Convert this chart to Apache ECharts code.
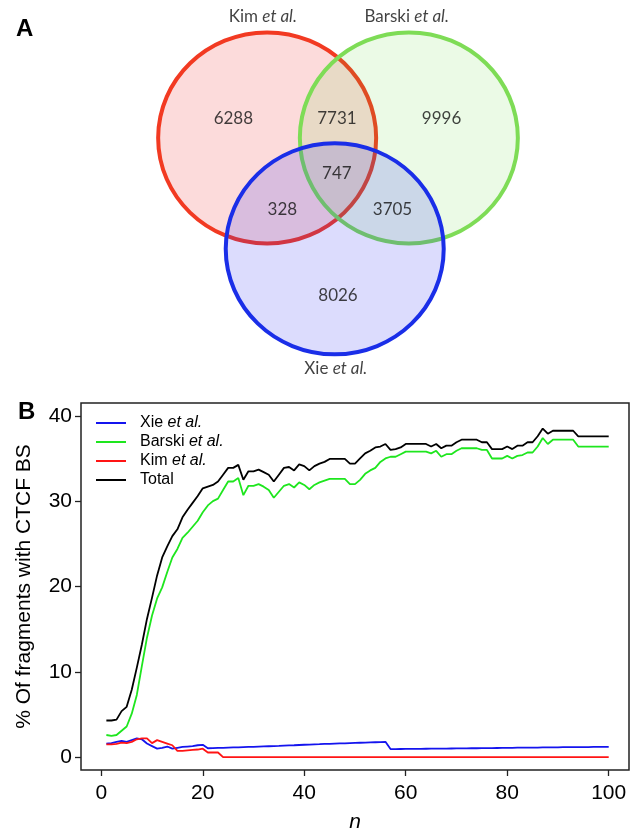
<!DOCTYPE html>
<html>
<head>
<meta charset="utf-8">
<script src="https://cdn.jsdelivr.net/npm/echarts@6/dist/echarts.min.js"></script>
<style>
  html, body { margin: 0; padding: 0; background: #fff; }
  #main { width: 638px; height: 831px; }
</style>
</head>
<body>
<div id="main"></div>
<script>
// ---- panel A: Venn (data units, circle radius = 1) ----
var vennSets = ['Kim', 'Barski', 'Xie'];
var vennCenters = [[-0.65, 0.35], [0.65, 0.35], [-0.03, -0.70]];
var vennRegions = ['6288', '7731', '9996', '747', '328', '3705', '8026'];
var vennRegionPos = [[-0.96, 0.53], [-0.01, 0.53], [0.95, 0.53], [-0.01, 0.01], [-0.51, -0.33], [0.50, -0.33], [0, -1.14]];
var vennNamePos = [[-0.69, 1.50], [0.63, 1.50], [-0.02, -1.83]];

// ---- panel B: % of fragments with CTCF BS vs n ----
var seriesNames = ['Xie et al.', 'Barski et al.', 'Kim et al.', 'Total'];
var xieVals = [1.6, 1.65, 1.8, 1.9, 1.8, 2.0, 2.2, 2.1, 1.6, 1.3,
  1.0, 1.1, 1.25, 1.0, 1.1, 1.2, 1.25, 1.3, 1.4, 1.45,
  1.05, 1.07, 1.09, 1.1, 1.12, 1.14, 1.16, 1.18, 1.2, 1.22,
  1.24, 1.26, 1.28, 1.3, 1.32, 1.35, 1.38, 1.4, 1.43, 1.46,
  1.48, 1.5, 1.52, 1.55, 1.57, 1.59, 1.61, 1.63, 1.65, 1.67,
  1.69, 1.71, 1.73, 1.75, 1.77, 1.8, 0.95, 0.95, 0.96, 0.97,
  0.97, 0.98, 0.98, 0.99, 1.0, 1.0, 1.01, 1.01, 1.02, 1.03,
  1.03, 1.04, 1.05, 1.05, 1.06, 1.07, 1.07, 1.08, 1.09, 1.09,
  1.1, 1.11, 1.11, 1.12, 1.13, 1.13, 1.14, 1.15, 1.15, 1.16,
  1.17, 1.17, 1.18, 1.18, 1.19, 1.19, 1.2, 1.2, 1.2, 1.2];
var barskiVals = [2.6, 2.5, 2.6, 3.1, 3.6, 5.1, 7.3, 10.7, 14.0, 16.6,
  18.6, 19.9, 21.7, 23.4, 24.4, 25.7, 26.3, 27.0, 27.7, 28.7,
  29.5, 30.0, 30.3, 31.3, 32.3, 32.3, 32.7, 30.7, 31.8, 31.8,
  32.0, 31.7, 31.3, 30.4, 31.1, 31.8, 32.0, 31.6, 32.2, 31.9,
  31.4, 31.9, 32.2, 32.4, 32.6, 32.6, 32.6, 32.6, 32.0, 32.0,
  32.5, 33.2, 33.6, 33.9, 34.6, 35.0, 35.2, 35.2, 35.5, 35.8,
  35.8, 35.8, 35.8, 35.8, 35.6, 35.9, 35.2, 35.5, 35.5, 35.9,
  36.2, 36.2, 36.2, 36.2, 36.0, 36.0, 35.0, 35.0, 35.0, 35.3,
  35.0, 35.3, 35.4, 35.7, 35.7, 36.4, 37.4, 36.7, 37.2, 37.2,
  37.2, 37.2, 37.2, 36.4, 36.4, 36.4, 36.4, 36.4, 36.4, 36.4];
var kimVals = [1.5, 1.5, 1.55, 1.7, 1.65, 1.8, 2.1, 2.2, 2.2, 1.65,
  2.0, 1.8, 1.6, 1.4, 0.75, 0.75, 0.8, 0.85, 0.9, 1.0,
  0.55, 0.55, 0.55, 0, 0, 0, 0, 0, 0, 0,
  0, 0, 0, 0, 0, 0, 0, 0, 0, 0,
  0, 0, 0, 0, 0, 0, 0, 0, 0, 0,
  0, 0, 0, 0, 0, 0, 0, 0, 0, 0,
  0, 0, 0, 0, 0, 0, 0, 0, 0, 0,
  0, 0, 0, 0, 0, 0, 0, 0, 0, 0,
  0, 0, 0, 0, 0, 0, 0, 0, 0, 0,
  0, 0, 0, 0, 0, 0, 0, 0, 0, 0];
var totalVals = [4.3, 4.3, 4.4, 5.4, 5.9, 7.9, 10.5, 13.2, 16.2, 18.7,
  21.3, 23.4, 24.7, 25.9, 26.7, 28.1, 29.0, 29.8, 30.6, 31.5,
  31.7, 31.9, 32.3, 33.1, 33.9, 33.9, 34.25, 32.5, 33.5, 33.5,
  33.7, 33.4, 33.1, 32.3, 33.1, 33.9, 34.0, 33.6, 34.3, 34.1,
  33.6, 34.1, 34.4, 34.6, 34.95, 34.95, 34.95, 34.95, 34.4, 34.4,
  35.0, 35.6, 35.9, 36.3, 36.4, 36.7, 36.0, 36.1, 36.3, 36.7,
  36.7, 36.7, 36.7, 36.7, 36.4, 36.7, 36.2, 36.5, 36.5, 36.9,
  37.2, 37.2, 37.2, 37.2, 36.9, 36.9, 36.1, 36.1, 36.1, 36.4,
  36.1, 36.5, 36.5, 36.9, 36.9, 37.6, 38.5, 37.9, 38.25, 38.25,
  38.25, 38.25, 38.25, 37.6, 37.6, 37.6, 37.6, 37.6, 37.6, 37.6];
var xTicks = [0, 20, 40, 60, 80, 100];
var yTicks = [0, 10, 20, 30, 40];

var lineColors = ['#1414ee', '#1ee61e', '#ff1414', '#000000'];
var vennStroke = ['#f23a22', '#7edc56', '#1a2ee8'];
var vennFill = ['rgba(240,40,40,0.17)', 'rgba(90,210,50,0.12)', 'rgba(40,40,240,0.16)'];

function withN(vals) {
  var out = [];
  for (var i = 0; i < vals.length; i++) out.push([i + 1, vals[i]]);
  return out;
}
function etAl(name, cls) {
  if (name.indexOf(' et al.') !== -1) {
    return '{' + cls + '|' + name.replace(' et al.', '') + ' }{' + cls + 'i|et al.}';
  }
  return '{' + cls + '|' + name + '}';
}

var chart = echarts.init(document.getElementById('main'), null, { renderer: 'canvas' });

var lineData = [xieVals, barskiVals, kimVals, totalVals];
var lineSeries = seriesNames.map(function (nm, i) {
  return {
    name: nm,
    type: 'line',
    xAxisIndex: 0,
    yAxisIndex: 0,
    data: withN(lineData[i]),
    symbol: 'none',
    lineStyle: { color: lineColors[i], width: 1.8 },
    itemStyle: { color: lineColors[i] },
    z: i === 3 ? 4 : 3
  };
});

var axisFont = 'Liberation Sans';

var option = {
  animation: false,
  backgroundColor: '#fff',
  title: [
    { text: 'A', left: 11, top: 12, textStyle: { fontSize: 24, fontWeight: 'bold', color: '#000', fontFamily: axisFont } },
    { text: 'B', left: 13, top: 395, textStyle: { fontSize: 24, fontWeight: 'bold', color: '#000', fontFamily: axisFont } }
  ],
  legend: {
    data: seriesNames,
    orient: 'vertical',
    left: 96,
    top: 415,
    padding: 0,
    itemGap: 3,
    itemWidth: 30,
    itemHeight: 16,
    icon: 'path://M0,0H30V2H0Z',
    formatter: function (name) { return etAl(name, 'n'); },
    textStyle: {
      padding: [0, 0, 0, 9],
      rich: {
        n: { fontSize: 16, fontFamily: axisFont, color: '#000' },
        ni: { fontSize: 16, fontFamily: axisFont, color: '#000', fontStyle: 'italic' }
      }
    }
  },
  grid: [
    { left: 81, top: 403, right: 9, bottom: 61, show: true, borderColor: '#222', borderWidth: 1.5, backgroundColor: 'transparent', outerBoundsMode: 'none' },
    { left: 120, top: 6, width: 436, height: 380, outerBoundsMode: 'none' }
  ],
  xAxis: [
    {
      type: 'value', gridIndex: 0, min: -4, max: 104,
      axisLine: { show: false, onZero: false },
      splitLine: { show: false },
      axisTick: { show: true, length: 6, lineStyle: { color: '#222', width: 1.3 }, customValues: xTicks },
      axisLabel: { customValues: xTicks, margin: 13, fontSize: 21, color: '#000', fontFamily: axisFont },
      name: 'n', nameLocation: 'middle', nameGap: 42,
      nameTextStyle: { fontSize: 21, fontStyle: 'italic', color: '#000', fontFamily: axisFont }
    },
    { type: 'value', gridIndex: 1, min: -2, max: 2, show: false }
  ],
  yAxis: [
    {
      type: 'value', gridIndex: 0, min: -1.5, max: 41.5,
      axisLine: { show: false, onZero: false },
      splitLine: { show: false },
      axisTick: { show: true, length: 6, lineStyle: { color: '#222', width: 1.3 }, customValues: yTicks },
      axisLabel: { customValues: yTicks, margin: 9, fontSize: 21, color: '#000', fontFamily: axisFont },
      name: '% Of fragments with CTCF BS', nameLocation: 'middle', nameGap: 46,
      nameTextStyle: { fontSize: 21, color: '#000', fontFamily: axisFont }
    },
    { type: 'value', gridIndex: 1, min: -2.0, max: 1.6, show: false }
  ],
  series: lineSeries.concat([
    {
      name: 'venn',
      type: 'custom',
      xAxisIndex: 1,
      yAxisIndex: 1,
      data: vennCenters.map(function (c) { return [c[0], c[1], 1]; }),
      renderItem: function (params, api) {
        var c = api.coord([api.value(0), api.value(1)]);
        var s = api.size([api.value(2), api.value(2)]);
        var i = params.dataIndex;
        return {
          type: 'ellipse',
          shape: { cx: c[0], cy: c[1], rx: s[0], ry: s[1] },
          style: { fill: vennFill[i], stroke: vennStroke[i], lineWidth: 4 }
        };
      },
      z: 1
    },
    {
      name: 'vennCounts',
      type: 'scatter',
      xAxisIndex: 1,
      yAxisIndex: 1,
      symbolSize: 0,
      data: vennRegions.map(function (v, i) { return { name: v, value: vennRegionPos[i] }; }),
      label: { show: true, position: 'inside', formatter: '{b}', fontSize: 17, color: '#111', fontFamily: 'Lato' },
      z: 5
    },
    {
      name: 'vennNames',
      type: 'scatter',
      xAxisIndex: 1,
      yAxisIndex: 1,
      symbolSize: 0,
      data: vennSets.map(function (v, i) { return { name: v + ' et al.', value: vennNamePos[i] }; }),
      label: {
        show: true, position: 'inside',
        formatter: function (p) { return etAl(p.name, 'v'); },
        rich: {
          v: { fontSize: 17, color: '#111', fontFamily: 'Lato' },
          vi: { fontSize: 17, color: '#111', fontFamily: 'Lato', fontStyle: 'italic' }
        }
      },
      z: 5
    }
  ])
};

chart.setOption(option);
</script>
</body>
</html>
